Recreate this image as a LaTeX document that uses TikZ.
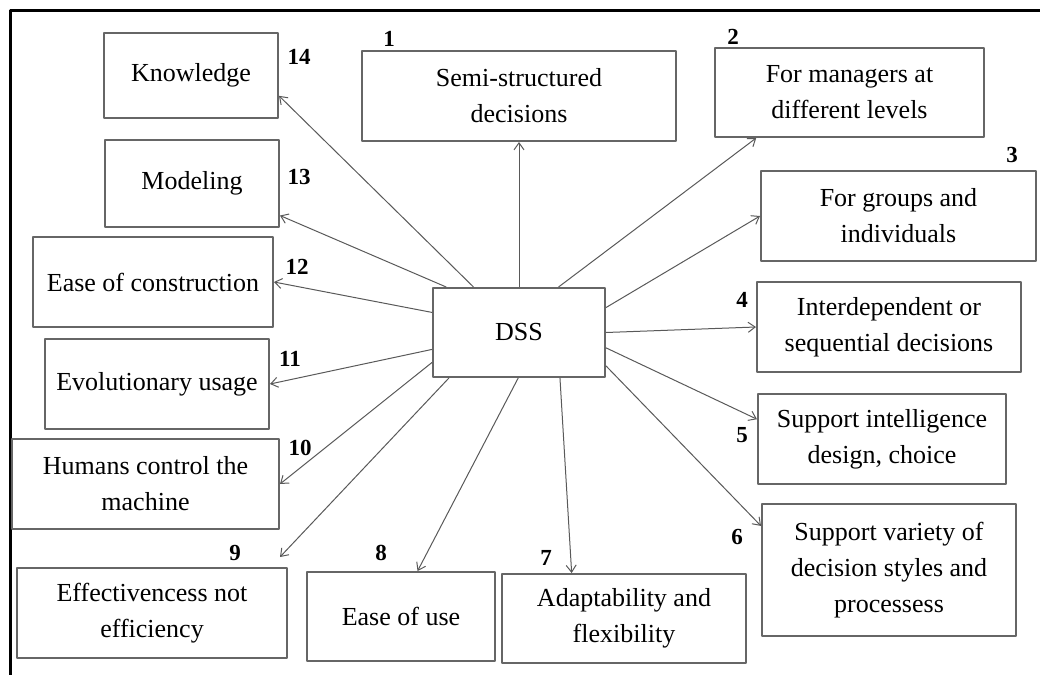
\documentclass[tikz,border=0pt]{standalone}
\usepackage{fontspec}
\setmainfont{Liberation Serif}
\usetikzlibrary{arrows.meta}
\begin{document}
\begin{tikzpicture}[x=0.5pt,y=-0.5pt,>={Straight Barb[length=3.5pt,width=5pt]},line join=round,
	box/.style={draw=black!60,line width=1pt,align=center,inner sep=0pt,font=\fontsize{13}{18}\selectfont},
	num/.style={font=\fontsize{11.5}{14}\selectfont\bfseries},
	link/.style={->,draw=black!65,line width=0.5pt}]
	\useasboundingbox (0,0) rectangle (1040,675);
	\draw[line width=1.5pt] (1040,10) -- (10,10) -- (10,675);
	% centre
	\node[box,minimum width=86pt,minimum height=44.5pt] (dss) at (519,332.5) {DSS};
	% right side
	\node[box,minimum width=157pt,minimum height=45pt] (se) at (519,96) {Semi-structured\\decisions};
	\node[box,minimum width=134.5pt,minimum height=44.5pt] (ma) at (849.5,92.5) {For managers at\\different levels};
	\node[box,minimum width=137.5pt,minimum height=45pt] (gr) at (898.5,216) {For groups and\\individuals};
	\node[box,minimum width=132pt,minimum height=45pt] (inter) at (889,327) {Interdependent or\\sequential decisions};
	\node[box,minimum width=124pt,minimum height=45pt] (si) at (882,439) {Support intelligence\\design, choice};
	\node[box,minimum width=127pt,minimum height=66pt] (sv) at (889,570) {Support variety of\\decision styles and\\processess};
	\node[box,minimum width=122pt,minimum height=44.5pt] (ad) at (624,618.5) {Adaptability and\\flexibility};
	% left side
	\node[box,minimum width=94pt,minimum height=44.5pt] (eu) at (401,616.5) {Ease of use};
	\node[box,minimum width=135pt,minimum height=45pt] (ef) at (152,613) {Effectivencess not\\efficiency};
	\node[box,minimum width=133.5pt,minimum height=45pt] (hu) at (145.5,484) {Humans control the\\machine};
	\node[box,minimum width=112pt,minimum height=45pt] (ev) at (157,384) {Evolutionary usage};
	\node[box,minimum width=120pt,minimum height=45pt] (ec) at (153,282) {Ease of construction};
	\node[box,minimum width=87pt,minimum height=43.5pt] (mo) at (192,183.5) {Modeling};
	\node[box,minimum width=87pt,minimum height=42.5pt] (kn) at (191,75.5) {Knowledge};
	\coordinate (c9) at (280,557);
	% numbers
	\foreach \t/\x/\y in {1/389/39,2/733/37,3/1012/155,4/742/300,5/742/435,6/737/537,7/546/558,
		8/381/553,9/235/553,10/300/448,11/290/359,12/297/267,13/299/177,14/299/57}
	\node[num] (n\t) at (\x,\y) {\t};
	% arrows
	\foreach \s/\e in {90/se.south,49/ma.206,16/gr.west,0/inter.west,350/si.171,339/sv.161,312/ad.139,
		269/eu.70,213/c9,199/hu.east,191/ev.east,167/ec.east,148/mo.-20,135/kn.-13}
	\draw[link] (dss.\s) -- (\e);
\end{tikzpicture}
\end{document}
